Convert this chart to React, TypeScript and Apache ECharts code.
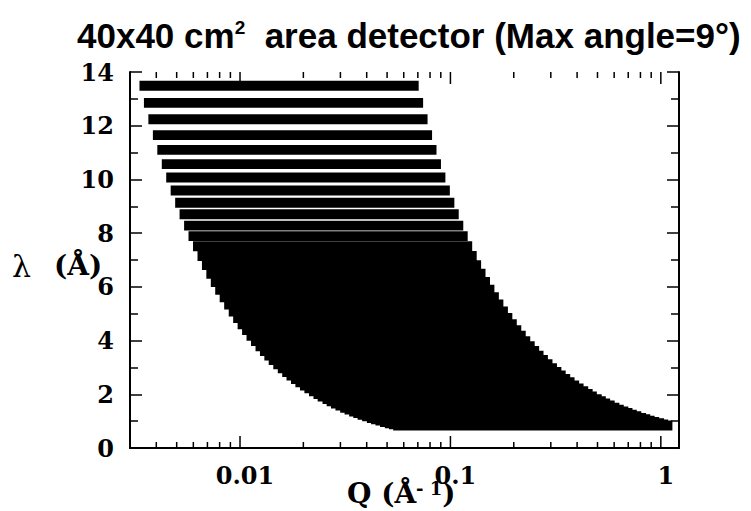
import React, { useEffect, useRef } from "react";
import * as echarts from "echarts";

// Wavelength of each band (Å), top to bottom
const LAMBDA = [
  13.49, 12.85, 12.24, 11.65, 11.1, 10.57, 10.07, 9.59, 9.13, 8.7, 8.28, 7.89,
  7.51, 7.15, 6.81, 6.49, 6.18, 5.89, 5.61, 5.34, 5.08, 4.84, 4.61, 4.39, 4.18,
  3.98, 3.79, 3.61, 3.44, 3.28, 3.12, 2.97, 2.83, 2.7, 2.57, 2.45, 2.33, 2.22,
  2.11, 2.01, 1.92, 1.82, 1.74, 1.66, 1.58, 1.5, 1.43, 1.36, 1.3, 1.24, 1.18,
  1.12, 1.07, 1.02, 0.97, 0.92, 0.88, 0.84,
];
// Lowest Q covered at that wavelength (Å^-1)
const Q_MIN = [
  0.003328, 0.003494, 0.003668, 0.003854, 0.004045, 0.004248, 0.004459,
  0.004682, 0.004918, 0.005161, 0.005423, 0.005691, 0.005979, 0.00628,
  0.006593, 0.006918, 0.007265, 0.007623, 0.008004, 0.008408, 0.008839,
  0.009277, 0.00974, 0.01023, 0.01074, 0.01128, 0.01185, 0.01244, 0.01305,
  0.01369, 0.01439, 0.01512, 0.01587, 0.01663, 0.01747, 0.01833, 0.01927,
  0.02023, 0.02128, 0.02234, 0.02339, 0.02467, 0.02581, 0.02705, 0.02842,
  0.02993, 0.0314, 0.03302, 0.03454, 0.03621, 0.03805, 0.04009, 0.04196,
  0.04402, 0.04629, 0.0488, 0.05102, 0.05345,
];
// Highest Q covered at that wavelength (Å^-1)
const Q_MAX = [
  0.07065, 0.07416, 0.07786, 0.0818, 0.08586, 0.09016, 0.09464, 0.09937,
  0.1044, 0.1095, 0.1151, 0.1208, 0.1269, 0.1333, 0.1399, 0.1468, 0.1542,
  0.1618, 0.1699, 0.1785, 0.1876, 0.1969, 0.2067, 0.2171, 0.228, 0.2395,
  0.2515, 0.264, 0.277, 0.2906, 0.3055, 0.3209, 0.3368, 0.353, 0.3708, 0.389,
  0.409, 0.4293, 0.4517, 0.4741, 0.4964, 0.5236, 0.5477, 0.5741, 0.6032,
  0.6353, 0.6664, 0.7007, 0.7331, 0.7686, 0.8076, 0.8509, 0.8907, 0.9343,
  0.9825, 1.036, 1.083, 1.135,
];

const X_MAJOR_TICKS = [0.01, 0.1, 1];
const X_TICK_LABELS = ["0.01", "0.1", "1"];
const X_MINOR_TICKS = [
  0.004, 0.005, 0.006, 0.007, 0.008, 0.009, 0.02, 0.03, 0.04, 0.05, 0.06,
  0.07, 0.08, 0.09, 0.2, 0.3, 0.4, 0.5, 0.6, 0.7, 0.8, 0.9,
];
const X_RANGE = [0.003, 1.22];
const Y_RANGE = [0, 14];
const Y_STEP = 2;

const TITLE = "40x40 cm{s|2}  area detector (Max angle=9°)";

const BAND_HALF = 0.185; // half thickness of a band, in Å
const INK = "#000";
const SERIF = '"DejaVu Serif", "Liberation Serif", serif';

export default function App() {
  const ref = useRef<HTMLDivElement>(null);

  useEffect(() => {
    if (!ref.current) return;
    const chart = echarts.init(ref.current, null, { renderer: "svg" });

    const bandData = LAMBDA.map((l, i) => [Q_MIN[i], Q_MAX[i], l]);
    const tickData = [
      ...X_MAJOR_TICKS.map((v) => [v, 1]),
      ...X_MINOR_TICKS.map((v) => [v, 0]),
    ];

    const labelFor = (v: number) => {
      const i = X_MAJOR_TICKS.findIndex(
        (t) => Math.abs(Math.log10(v) - Math.log10(t)) < 1e-6
      );
      return i >= 0 ? X_TICK_LABELS[i] : "";
    };

    const axisLine = { show: true, lineStyle: { color: INK, width: 2 } };
    const yCommon = {
      type: "value" as const,
      min: Y_RANGE[0],
      max: Y_RANGE[1],
      interval: Y_STEP,
      splitLine: { show: false },
      axisLine,
      axisTick: { show: true, inside: true, length: 12, lineStyle: { color: INK, width: 1.5 } },
      minorTick: { show: true, splitNumber: 2, length: 8, lineStyle: { color: INK, width: 1.5 } },
    };
    const xCommon = {
      type: "log" as const,
      min: X_RANGE[0],
      max: X_RANGE[1],
      splitLine: { show: false },
      axisLine,
      axisTick: { show: false },
    };

    chart.setOption({
      animation: false,
      backgroundColor: "#fff",
      grid: { left: 130, right: 72, top: 72, bottom: 63 },
      xAxis: [
        {
          ...xCommon,
          position: "bottom",
          axisLabel: {
            formatter: labelFor,
            color: INK,
            fontFamily: SERIF,
            fontWeight: "bold",
            fontSize: 24,
            margin: 15,
            padding: [0, 0, 0, 10],
            showMinLabel: false,
            showMaxLabel: false,
          },
        },
        { ...xCommon, position: "top", axisLabel: { show: false } },
      ],
      yAxis: [
        {
          ...yCommon,
          position: "left",
          axisLabel: {
            color: INK,
            fontFamily: SERIF,
            fontWeight: "bold",
            fontSize: 24,
            margin: 16,
          },
        },
        { ...yCommon, position: "right", axisLabel: { show: false } },
      ],
      series: [
        {
          type: "custom",
          name: "coverage",
          xAxisIndex: 0,
          yAxisIndex: 0,
          encode: { x: [0, 1], y: 2 },
          data: bandData,
          renderItem: (_p: any, api: any) => {
            const a = api.coord([api.value(0), api.value(2) + BAND_HALF]);
            const b = api.coord([api.value(1), api.value(2) - BAND_HALF]);
            return {
              type: "rect",
              shape: { x: a[0], y: a[1], width: b[0] - a[0], height: b[1] - a[1] },
              style: { fill: INK },
            };
          },
        },
        {
          type: "custom",
          name: "xticks",
          xAxisIndex: 0,
          yAxisIndex: 0,
          silent: true,
          z: 5,
          encode: { x: 0 },
          data: tickData,
          renderItem: (_p: any, api: any) => {
            const major = api.value(1) === 1;
            const len = major ? 12 : 6;
            const bot = api.coord([api.value(0), Y_RANGE[0]]);
            const top = api.coord([api.value(0), Y_RANGE[1]]);
            const ls = { stroke: INK, lineWidth: 1.5 };
            return {
              type: "group",
              children: [
                { type: "line", shape: { x1: bot[0], y1: bot[1], x2: bot[0], y2: bot[1] - len }, style: ls },
                { type: "line", shape: { x1: top[0], y1: top[1], x2: top[0], y2: top[1] + len }, style: ls },
              ],
            };
          },
        },
      ],
      graphic: [
        {
          type: "text",
          x: 77,
          y: 18,
          style: {
            text: TITLE,
            fill: INK,
            font: 'bold 35px "Liberation Sans", Arial, sans-serif',
            textVerticalAlign: "top",
            rich: {
              s: { fontSize: 19, fontWeight: "bold", fontFamily: '"Liberation Sans", Arial, sans-serif', verticalAlign: "top", fill: INK },
            },
          },
        },
        {
          type: "text",
          x: 12,
          y: 266,
          style: {
            text: "λ",
            fill: INK,
            font: '30px "DejaVu Serif", serif',
            textVerticalAlign: "middle",
          },
        },
        {
          type: "text",
          x: 54,
          y: 265,
          style: {
            text: "(Å)",
            fill: INK,
            font: 'bold 28px "DejaVu Serif", serif',
            textVerticalAlign: "middle",
          },
        },
        {
          type: "text",
          x: 347,
          y: 479,
          style: {
            text: "Q (Å{s|- 1})",
            fill: INK,
            font: 'bold 28px "DejaVu Serif", serif',
            textVerticalAlign: "top",
            rich: {
              s: { fontSize: 18, fontWeight: "bold", fontFamily: '"DejaVu Serif", serif', verticalAlign: "top", fill: INK },
            },
          },
        },
      ],
    });

    return () => chart.dispose();
  }, []);

  return <div ref={ref} style={{ width: 751, height: 511, position: "absolute", left: 0, top: 0 }} />;
}
